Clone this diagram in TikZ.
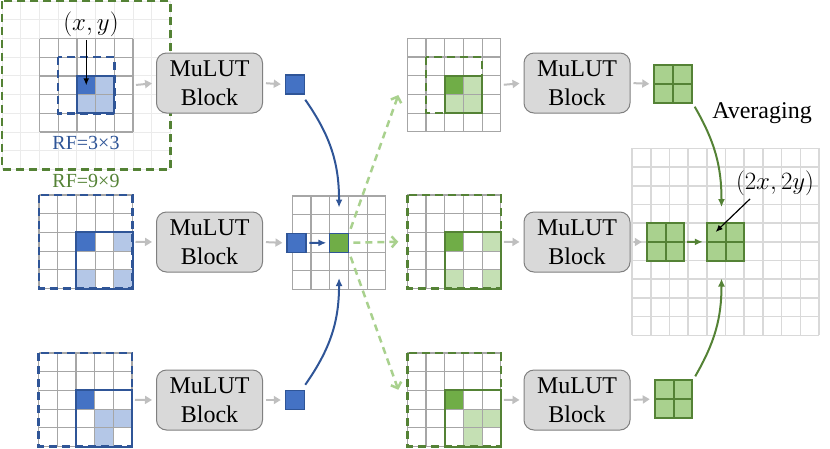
\documentclass[tikz,border=0pt]{standalone}
\usepackage{fontspec}
\setmainfont{Liberation Serif}
\usetikzlibrary{positioning,arrows.meta,calc}

\definecolor{bdark}{HTML}{4472C4}
\definecolor{bline}{HTML}{2F5597}
\definecolor{blight}{HTML}{B4C7E7}
\definecolor{gdark}{HTML}{70AD47}
\definecolor{gline}{HTML}{548235}
\definecolor{glight}{HTML}{C5E0B4}
\definecolor{gmid}{HTML}{A9D18E}
\definecolor{gridgray}{HTML}{A6A6A6}
\definecolor{biggray}{HTML}{D9D9D9}
\definecolor{faintgray}{HTML}{EBEBEB}
\definecolor{lutfill}{HTML}{D9D9D9}
\definecolor{lutline}{HTML}{808080}
\definecolor{arrowgray}{HTML}{BFBFBF}

% n x n cell lines in the current scope units
\newcommand{\cellgrid}[2]{\foreach \k in {0,...,#1} {\draw[#2] (\k,0) -- (\k,#1) (0,\k) -- (#1,\k);}}

\begin{document}
\begin{tikzpicture}[x=1pt,y=-1pt,
  gridline/.style={draw=gridgray,line width=1.2pt},
  bigline/.style={draw=biggray,line width=1.6pt},
  faintline/.style={draw=faintgray,line width=1pt},
  gridspot/.style={minimum size=93.5pt,inner sep=0pt,outer sep=0pt},
  lut/.style={draw=lutline,fill=lutfill,rounded corners=10pt,line width=1pt,minimum width=106pt,minimum height=60pt,align=center,inner sep=0pt,font=\fontsize{24}{29}\selectfont},
  flow/.style={draw=arrowgray,line width=2pt,-{Triangle[length=7pt,width=8pt]},shorten <=3pt,shorten >=4pt},
  pix/.style={minimum size=19pt,inner sep=0pt,line width=1.5pt,draw=bline},
  quad/.style={minimum size=37.4pt,inner sep=0pt,fill=gmid,draw=gline,line width=2pt,
    path picture={\draw[gline,line width=2pt] (path picture bounding box.north) -- (path picture bounding box.south) (path picture bounding box.west) -- (path picture bounding box.east);}},
  bluedash/.style={draw=bline,line width=2.5pt,dash pattern=on 8pt off 5pt},
  greendash/.style={draw=gline,line width=2.5pt,dash pattern=on 8pt off 5pt},
  bluebox/.style={draw=bline,line width=2pt},
  greenbox/.style={draw=gline,line width=2pt},
  bluearrow/.style={draw=bline,line width=2pt,-{Latex[length=8pt,width=7pt]}},
  greenarrow/.style={draw=gline,line width=2pt,-{Latex[length=8pt,width=7pt]}},
  spread/.style={draw=gmid,line width=2.5pt,dash pattern=on 7pt off 5pt,-{Straight Barb[length=5pt,width=11pt]},shorten <=4pt},
  pointer/.style={draw=black,line width=1.2pt,-{Latex[length=7pt,width=6pt]}}]
\useasboundingbox (0,0) rectangle (830,448);

% left column
\begin{scope}[shift={(2.1,1.1)},x=18.7pt,y=-18.7pt]
  \cellgrid{9}{faintline}
  \draw[greendash] (0,0) rectangle (9,9);
\end{scope}
\begin{scope}[shift={(39.5,38.5)},x=18.7pt,y=-18.7pt]
  \fill[bdark] (2,2) rectangle (3,3);
  \fill[blight] (3,2) rectangle (4,3) (2,3) rectangle (4,4);
  \cellgrid{5}{gridline}
  \draw[bluedash] (1,1) rectangle (4,4);
  \draw[bluebox] (2,2) rectangle (4,4);
  \node[gridspot] (l1) at (2.5,2.5) {};
\end{scope}
\begin{scope}[shift={(39,195)},x=18.7pt,y=-18.7pt]
  \fill[bdark] (2,2) rectangle (3,3);
  \fill[blight] (4,2) rectangle (5,3) (2,4) rectangle (3,5) (4,4) rectangle (5,5);
  \cellgrid{5}{gridline}
  \draw[bluedash] (0,0) rectangle (5,5);
  \draw[bluebox] (2,2) rectangle (5,5);
  \node[gridspot] (l2) at (2.5,2.5) {};
\end{scope}
\begin{scope}[shift={(38.5,353)},x=18.7pt,y=-18.7pt]
  \fill[bdark] (2,2) rectangle (3,3);
  \fill[blight] (3,3) rectangle (5,4) (3,4) rectangle (4,5);
  \cellgrid{5}{gridline}
  \draw[bluedash] (0,0) rectangle (5,5);
  \draw[bluebox] (2,2) rectangle (5,5);
  \node[gridspot] (l3) at (2.5,2.5) {};
\end{scope}

% middle grid
\begin{scope}[shift={(292.3,196)},x=18.7pt,y=-18.7pt]
  \cellgrid{5}{gridline}
  \node[gridspot] (c0) at (2.5,2.5) {};
\end{scope}

% right column
\begin{scope}[shift={(407.3,38.3)},x=18.7pt,y=-18.7pt]
  \fill[gdark] (2,2) rectangle (3,3);
  \fill[glight] (3,2) rectangle (4,3) (2,3) rectangle (4,4);
  \cellgrid{5}{gridline}
  \draw[greendash] (1,1) rectangle (4,4);
  \draw[greenbox] (2,2) rectangle (4,4);
  \node[gridspot] (r1) at (2.5,2.5) {};
\end{scope}
\begin{scope}[shift={(407.3,195)},x=18.7pt,y=-18.7pt]
  \fill[gdark] (2,2) rectangle (3,3);
  \fill[glight] (4,2) rectangle (5,3) (2,4) rectangle (3,5) (4,4) rectangle (5,5);
  \cellgrid{5}{gridline}
  \draw[greendash] (0,0) rectangle (5,5);
  \draw[greenbox] (2,2) rectangle (5,5);
  \node[gridspot] (r2) at (2.5,2.5) {};
\end{scope}
\begin{scope}[shift={(407.3,353)},x=18.7pt,y=-18.7pt]
  \fill[gdark] (2,2) rectangle (3,3);
  \fill[glight] (3,3) rectangle (5,4) (3,4) rectangle (4,5);
  \cellgrid{5}{gridline}
  \draw[greendash] (0,0) rectangle (5,5);
  \draw[greenbox] (2,2) rectangle (5,5);
  \node[gridspot] (r3) at (2.5,2.5) {};
\end{scope}

% output grid
\begin{scope}[shift={(632,148.3)},x=18.7pt,y=-18.7pt]
  \cellgrid{10}{bigline}
\end{scope}

\node[lut] (b1) at (209.5,83) {MuLUT\\Block};
\node[lut] (b2) at (209.5,242) {MuLUT\\Block};
\node[lut] (b3) at (209.5,400) {MuLUT\\Block};
\node[lut] (b4) at (577,83) {MuLUT\\Block};
\node[lut] (b5) at (577,242) {MuLUT\\Block};
\node[lut] (b6) at (577,400) {MuLUT\\Block};

\node[pix,fill=bdark] (s1) at (295,84.5) {};
\node[pix,fill=bdark] (s2) at (296.7,243) {};
\node[pix,fill=bdark] (s3) at (295,400) {};
\node[pix,fill=gdark] (gc) at (c0) {};

\node[quad] (q1) at (673,84) {};
\node[quad] (q2) at (665.5,242) {};
\node[quad] (q3) at (725.5,241.8) {};
\node[quad] (q4) at (673.5,399) {};

\node[font=\fontsize{23}{23}\selectfont] (xy) at (91,24) {$(x,y)$};
\node[text=bline,font=\fontsize{20}{20}\selectfont] (rf3) at (86,143) {RF=3×3};
\node[text=gline,font=\fontsize{20}{20}\selectfont] (rf9) at (86,181) {RF=9×9};
\node[font=\fontsize{24}{24}\selectfont] (avg) at (762,113) {Averaging};
\node[font=\fontsize{23}{23}\selectfont] (uv) at (775,183) {$(2x,2y)$};

\draw[flow] (l1.east) -- (b1.west);
\draw[flow] (l2.east) -- (b2.west);
\draw[flow] (l3.east) -- (b3.west);
\draw[flow] (b1.east) -- (s1.west);
\draw[flow] (b2.east) -- (s2.west);
\draw[flow] (b3.east) -- (s3.west);
\draw[flow] (r1.east) -- (b4.west);
\draw[flow] (r2.east) -- (b5.west);
\draw[flow] (r3.east) -- (b6.west);
\draw[flow] (b4.east) -- (q1.west);
\draw[flow] (b5.east) -- (q2.west);
\draw[flow] (b6.east) -- (q4.west);

\draw[bluearrow,shorten <=2.5pt,shorten >=2.5pt] (s2.east) -- (gc.west);
\draw[bluearrow] ([yshift=-5pt]s1.south east) to[out=-55,in=90] ([yshift=25pt]gc.north);
\draw[bluearrow] ([yshift=5pt]s3.north east) to[out=55,in=-90] ([yshift=-25pt]gc.south);

\draw[spread] (gc.east) -- ([xshift=-9pt]r2.west);
\draw[spread] (gc.north east) -- ([shift={(-9pt,-10pt)}]r1.west);
\draw[spread] (gc.south east) -- ([shift={(-9pt,10pt)}]r3.west);

\draw[greenarrow,shorten <=2pt,shorten >=3pt] (q2.east) -- (q3.west);
\draw[greenarrow] ([shift={(2pt,-3pt)}]q1.south east) to[out=-60,in=90] ([shift={(-4pt,15pt)}]q3.north);
\draw[greenarrow] ([shift={(2pt,3pt)}]q4.north east) to[out=60,in=-90] ([shift={(-4pt,-17pt)}]q3.south);

\draw[pointer] (xy.south -| l1.center) -- (l1.center);
\draw[pointer] ([xshift=-25pt]uv.south) -- ($(q3.center)!0.5!(q3.north west)$);
\end{tikzpicture}
\end{document}
